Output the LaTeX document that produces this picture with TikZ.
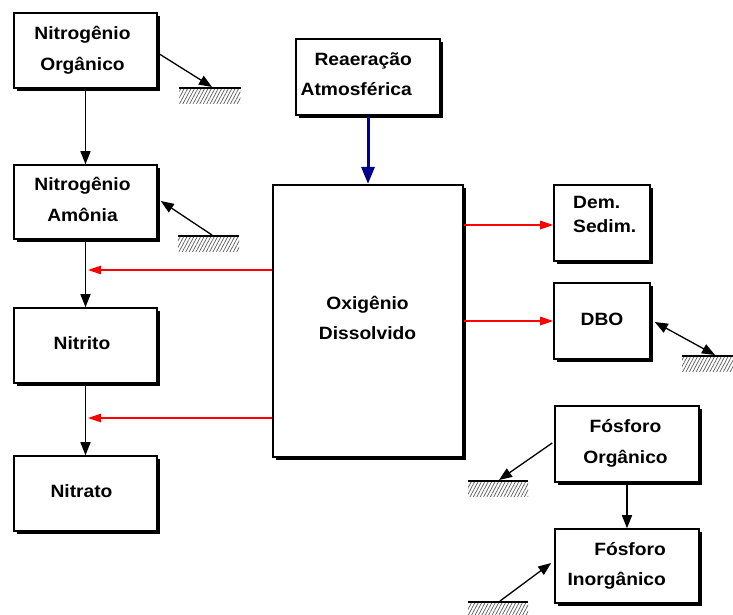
\documentclass[tikz,border=0pt]{standalone}
\usepackage{fontspec}
\setmainfont{Liberation Sans}[FakeStretch=1.08]
\usetikzlibrary{shadows,patterns.meta,arrows.meta}

\definecolor{flowred}{RGB}{255,0,0}
\definecolor{airblue}{RGB}{0,0,140}

\tikzset{
  box/.style={draw, fill=white, line width=1.6pt, rectangle, inner sep=0pt,
    drop shadow={shadow xshift=3.2pt, shadow yshift=-3.2pt, fill=black, opacity=1}},
  txt/.style={inner sep=0pt, font=\fontsize{17.8}{31}\bfseries\selectfont},
  sediment/.style={rectangle, inner sep=0pt, minimum height=15pt,
    pattern={Lines[angle=62, distance=3pt, line width=0.7pt]}, pattern color=black!65},
  flow/.style={line width=1.3pt, -{Triangle[length=13pt, width=10pt]}},
  redflow/.style={flowred, line width=1.3pt, -{Triangle[length=13pt, width=8.5pt]}},
  airflow/.style={airblue, line width=3pt, -{Triangle[length=17pt, width=13pt]}},
  exchange/.style={line width=1.3pt, {Triangle[length=13pt, width=10pt]}-{Triangle[length=13pt, width=10pt]}},
}

\begin{document}
\begin{tikzpicture}[x=1pt, y=-1pt]
  \useasboundingbox (0,0) rectangle (733,614);

  % nitrogen chain
  \node[box, minimum width=143pt, minimum height=75pt] (norg) at (85.5,50.5) {};
  \node[box, minimum width=143pt, minimum height=74pt] (namo) at (85.5,202) {};
  \node[box, minimum width=143pt, minimum height=75pt] (nitri) at (85.5,345.5) {};
  \node[box, minimum width=143pt, minimum height=75pt] (nitra) at (85.5,493.5) {};

  % oxygen balance
  \node[box, minimum width=144pt, minimum height=76pt] (reaer) at (368,77) {};
  \node[box, line width=2.2pt, minimum width=190pt, minimum height=272pt] (od) at (368,321) {};
  \node[box, minimum width=96pt, minimum height=76pt] (dem) at (602,223) {};
  \node[box, minimum width=96pt, minimum height=76pt] (dbo) at (602,321) {};

  % phosphorus chain
  \node[box, minimum width=144pt, minimum height=76pt] (porg) at (627,444) {};
  \node[box, minimum width=144pt, minimum height=74pt] (pinorg) at (627,566) {};

  % box labels
  \node[txt, anchor=base] (norg-t) at (82.5,39) {\begin{tabular}[t]{@{}c@{}}Nitrogênio\\Orgânico\end{tabular}};
  \node[txt, anchor=base] (namo-t) at (82.5,190) {\begin{tabular}[t]{@{}c@{}}Nitrogênio\\Amônia\end{tabular}};
  \node[txt, anchor=base] (nitri-t) at (82,349) {Nitrito};
  \node[txt, anchor=base] (nitra-t) at (81.5,497) {Nitrato};
  \node[txt, anchor=base east] (reaer-t) at (412,65) {\begin{tabular}[t]{@{}r@{}}Reaeração\\[-1pt]Atmosférica\end{tabular}};
  \node[txt, anchor=base] (od-t) at (367.5,309) {\begin{tabular}[t]{@{}c@{}}Oxigênio\\[-1pt]Dissolvido\end{tabular}};
  \node[txt, anchor=base west] (dem-t) at (573,208) {\begin{tabular}[t]{@{}l@{}}Dem.\\[-7pt]Sedim.\end{tabular}};
  \node[txt, anchor=base] (dbo-t) at (602,325) {DBO};
  \node[txt, anchor=base] (porg-t) at (625.5,432) {\begin{tabular}[t]{@{}c@{}}Fósforo\\Orgânico\end{tabular}};
  \node[txt, anchor=base east] (pinorg-t) at (666,555) {\begin{tabular}[t]{@{}r@{}}Fósforo\\[-1pt]Inorgânico\end{tabular}};

  % sediment layers
  \node[sediment, minimum width=61pt, anchor=north west] (sed1) at (179,88) {};
  \node[sediment, minimum width=61pt, anchor=north west] (sed2) at (178,236) {};
  \node[sediment, minimum width=52pt, anchor=north west] (sed3) at (682,356) {};
  \node[sediment, minimum width=60pt, anchor=north west] (sed4) at (468,481) {};
  \node[sediment, minimum width=60pt, anchor=north west] (sed5) at (468,602) {};
  \foreach \s in {sed1,sed2,sed3,sed4,sed5}
    \draw[line width=1.2pt] (\s.north west) -- (\s.north east);

  % sediment contact points
  \coordinate (s1) at (212,87);
  \coordinate (s2) at (212,235);
  \coordinate (s3) at (715,355);
  \coordinate (s4) at (499,480);
  \coordinate (s5) at (500,601);

  % transformations along the chains
  \draw[flow] (norg.south) -- (namo.north);
  \draw[flow] (namo.south) -- (nitri.north);
  \draw[flow] (nitri.south) -- (nitra.north);
  \draw[flow] (porg.south) -- (pinorg.north);

  % exchanges with the bed
  \draw[flow] (norg.east |- 0,53) -- (s1);
  \draw[flow] (s2) -- ([xshift=3pt]namo.east |- 0,201);
  \draw[exchange] ([xshift=4pt]dbo.east |- 0,322) -- (s3);
  \draw[flow] ([xshift=-2pt]porg.west |- 0,443) -- (s4);
  \draw[flow] (s5) -- ([xshift=-3pt]pinorg.west |- 0,563);

  % oxygen demand and supply
  \coordinate (nh) at (88,270);
  \coordinate (no) at (88,418);
  \draw[redflow] (od.west |- nh) -- (nh);
  \draw[redflow] (od.west |- no) -- (no);
  \draw[redflow] (od.east |- 0,225) -- (dem.west |- 0,225);
  \draw[redflow] (od.east |- 0,321) -- (dbo.west |- 0,321);
  \draw[airflow] (reaer.south) -- (od.north);
\end{tikzpicture}
\end{document}
